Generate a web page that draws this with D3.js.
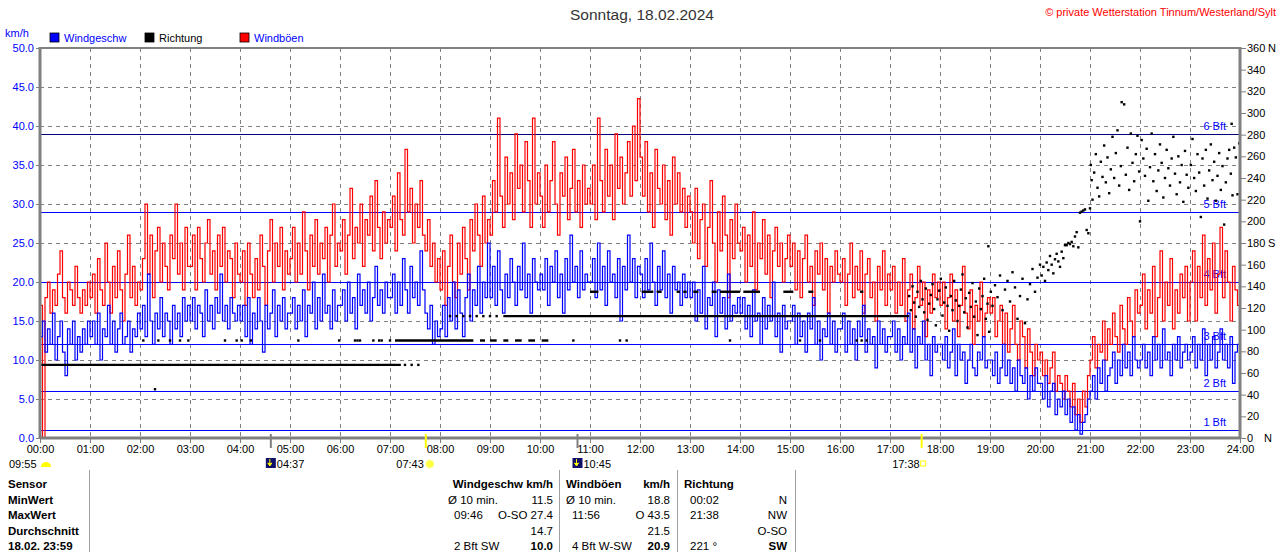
<!DOCTYPE html>
<html lang="de">
<head>
<meta charset="UTF-8">
<title>Wind 18.02.2024</title>
<style>
  body { margin: 0; background: #fff; }
  svg { display: block; font-family: "Liberation Sans", Arial, sans-serif; }
</style>
</head>
<body>
<svg id="chart" width="1280" height="552"></svg>
<script src="https://d3js.org/d3.v7.min.js"></script>
<script>
// Windboeen km/h, one row per hour, values every 3 minutes
let gustRows = [
  [17,0,18,20,16,19,17,21,24,18,16,20,19,17,22,18,16,19,17,20],
  [18,21,16,23,19,17,25,20,16,22,18,24,19,15,21,26,18,22,17,20],
  [19,23,30,21,26,18,24,27,20,25,22,19,26,23,30,21,25,19,27,22],
  [22,26,19,27,23,20,25,28,21,24,19,26,22,27,20,24,23,18,25,21],
  [20,24,17,25,21,18,23,19,26,22,17,24,28,20,25,22,27,19,24,21],
  [23,27,20,25,21,29,24,19,26,22,28,21,25,23,27,20,26,30,22,25],
  [24,28,21,26,32,23,27,25,30,22,28,26,31,24,33,27,23,29,25,28],
  [27,31,24,34,28,26,37,29,32,25,30,27,33,26,24,28,22,25,20,23],
  [19,24,17,22,26,20,18,25,21,27,23,19,28,24,30,26,22,31,25,28],
  [26,33,29,41,31,27,36,30,34,28,39,32,35,29,38,33,27,41,30,34],
  [31,27,35,29,33,38,30,26,34,31,36,28,32,37,29,33,27,35,30,32],
  [30,35,28,41,33,29,37,31,35,28,39,32,36,30,34,38,31,40,33,43.5],
  [36,31,38,29,34,27,37,32,30,35,28,33,26,36,30,34,29,32,27,31],
  [29,25,32,23,28,30,22,27,33,25,20,29,24,31,26,18,28,23,30,25],
  [24,27,20,26,22,29,19,25,23,28,21,26,18,24,27,22,25,20,23,26],
  [22,25,19,24,18,23,26,20,22,17,24,21,25,19,23,16,22,20,24,21],
  [20,23,17,21,25,18,22,19,24,16,21,23,18,20,15,22,19,24,17,21],
  [19,22,16,20,17,23,15,19,21,14,18,22,17,20,13,19,16,21,18,20],
  [17,20,14,18,21,15,19,13,17,22,16,14,19,12,17,15,20,13,16,18],
  [16,18,13,15,17,12,16,11,14,17,12,10,15,13,9,14,11,8,12,10],
  [11,8,10,7,9,11,6,8,7,5,8,6,4,7,3,5,2,6,4,8],
  [10,13,9,12,11,15,10,14,12,16,13,11,17,14,12,18,15,13,19,16],
  [17,21,14,19,16,22,13,18,24,15,20,17,23,14,19,16,21,18,22,15],
  [20,24,15,22,18,26,17,23,19,25,16,21,27,18,24,20,15,22,19,17]
];

// Windgeschwindigkeit km/h, one row per hour, values every 3 minutes
let speedRows = [
  [13,15,11,14,12,16,10,13,15,11,8,14,12,15,10,13,11,14,12,15],
  [13,15,12,16,10,14,13,17,12,15,11,14,16,12,13,15,11,14,13,16],
  [14,17,13,21,15,12,16,14,18,13,16,15,12,17,14,16,13,18,15,17],
  [15,18,14,17,16,13,19,15,17,14,18,16,21,15,17,14,18,16,15,17],
  [15,17,13,18,12,16,14,18,15,11,17,14,16,19,13,17,15,18,14,16],
  [16,18,14,17,15,19,13,17,16,20,14,18,15,21,16,17,14,19,15,17],
  [17,19,15,20,16,18,14,21,17,19,16,20,15,18,22,17,19,16,20,18],
  [18,21,16,20,17,23,19,16,22,18,20,17,24,19,16,14,17,12,15,13],
  [14,17,13,18,15,20,14,19,16,13,18,21,15,19,17,22,16,20,18,25],
  [18,22,17,24,19,16,21,18,23,20,17,22,19,25,18,21,16,23,20,19],
  [21,19,23,17,22,20,24,18,21,16,23,19,26,20,22,18,24,19,21,20],
  [20,23,18,25,19,22,17,24,20,21,18,23,15,22,19,26,20,23,18,22],
  [21,18,23,19,25,20,17,22,19,24,18,21,16,22,19,20,17,21,18,20],
  [18,20,15,19,16,22,14,18,17,20,13,19,16,18,14,21,15,17,16,18],
  [16,18,14,17,13,19,15,16,12,18,14,17,15,20,13,16,11,17,14,15],
  [15,17,12,16,13,15,11,16,14,18,12,15,10,14,13,16,12,15,11,14],
  [14,16,11,15,12,14,10,15,13,17,11,14,12,13,9,15,12,14,11,13],
  [13,15,11,14,10,13,12,16,11,14,9,13,12,15,10,12,8,13,11,12],
  [12,10,13,9,11,14,8,12,10,11,7,10,12,9,8,11,10,13,9,10],
  [10,8,11,7,9,12,8,10,7,9,6,10,8,7,9,5,8,6,9,7],
  [7,5,8,4,6,7,3,5,4,6,3,5,2,4,1,3,0.5,2,3,5],
  [6,8,5,9,7,10,6,8,9,11,7,10,8,12,9,11,8,13,10,9],
  [10,12,9,11,8,13,10,12,9,14,10,11,8,12,10,13,9,11,12,10],
  [11,13,9,12,10,14,8,12,10,13,9,11,14,10,12,9,13,7,11,12]
];
let gustEnd = 16, speedEnd = 11; // readings at 24:00

// Richtung: steady runs [from minute, to minute, degrees]
let dirRuns = [
  [0, 433, 67.5], [426, 520, 90],
  [528, 534, 90], [540, 548, 90], [556, 562, 90], [570, 578, 90], [586, 594, 90], [602, 610, 90],
  [556, 1043, 112.5],
  [660, 670, 135], [722, 736, 135], [740, 746, 135], [764, 768, 135], [772, 776, 135],
  [784, 790, 135], [806, 812, 135], [816, 840, 135], [844, 864, 135], [892, 904, 135],
  [922, 928, 135], [984, 988, 135]
];

// Richtung: single readings [minute, degrees]
let dirDots = [
  [138, 45], [438, 67.5], [446, 67.5], [454, 67.5],
  [124, 90], [142, 90], [156, 90], [168, 90], [178, 90], [222, 90], [236, 90], [242, 90],
  [253, 90], [310, 90], [359, 90], [378, 90], [381, 90], [384, 90], [400, 90], [407, 90],
  [410, 90], [420, 90], [640, 90], [696, 90], [704, 90], [828, 90], [912, 90], [936, 90],
  [980, 90], [986, 90], [992, 90],
  [492, 112.5], [500, 112.5], [508, 112.5], [516, 112.5], [524, 112.5], [532, 112.5], [540, 112.5], [548, 112.5],
  [1043, 131], [1045, 118], [1047, 140], [1049, 125], [1051, 112], [1053, 135], [1055, 121], [1057, 145],
  [1059, 128], [1061, 116], [1063, 138], [1065, 109], [1067, 124], [1069, 132], [1071, 142], [1073, 119],
  [1075, 104], [1077, 128], [1079, 136], [1081, 147], [1083, 113], [1085, 125], [1087, 139], [1089, 122],
  [1091, 99], [1093, 131], [1095, 118], [1097, 145], [1099, 127], [1101, 108], [1103, 122], [1105, 137],
  [1107, 151], [1109, 116], [1111, 129], [1113, 102], [1115, 134], [1117, 121], [1119, 143], [1121, 112],
  [1123, 126], [1125, 95], [1127, 138], [1129, 119], [1131, 131], [1133, 147], [1135, 110], [1137, 124],
  [1138, 177], [1139, 98], [1141, 135], [1143, 122], [1146, 141], [1149, 130], [1152, 150], [1155, 118],
  [1158, 137], [1161, 145], [1164, 126], [1167, 153], [1170, 139], [1173, 110], [1176, 131], [1179, 147],
  [1182, 106], [1185, 128], [1188, 142], [1191, 156], [1194, 135], [1197, 148], [1200, 160], [1202, 150],
  [1204, 158], [1206, 145], [1208, 162], [1210, 155], [1212, 168], [1214, 160], [1216, 152], [1218, 165],
  [1220, 170], [1222, 163], [1224, 158], [1226, 172], [1228, 166], [1230, 178], [1232, 178], [1234, 180],
  [1236, 179], [1238, 181], [1240, 177], [1242, 186], [1244, 190], [1246, 176], [1248, 208], [1250, 209],
  [1252, 210], [1254, 211], [1256, 192], [1258, 189], [1260, 212],
  [1261, 252], [1262, 238], [1263, 220], [1265, 245], [1267, 262], [1269, 231], [1271, 223], [1273, 255],
  [1275, 241], [1277, 270], [1279, 236], [1281, 259], [1283, 226], [1285, 248], [1287, 278], [1289, 240],
  [1291, 263], [1293, 284], [1295, 233], [1297, 251], [1298, 310], [1301, 308], [1303, 243], [1305, 268],
  [1307, 229], [1309, 281], [1311, 254], [1313, 237], [1315, 262], [1317, 279], [1319, 246], [1320, 200],
  [1322, 275], [1324, 258], [1326, 242], [1328, 267], [1330, 219], [1332, 250], [1334, 281], [1336, 237],
  [1338, 262], [1340, 228], [1342, 247], [1344, 271], [1346, 254], [1348, 222], [1350, 240], [1352, 266],
  [1354, 249], [1356, 233], [1358, 258], [1360, 278], [1362, 244], [1364, 225], [1366, 260], [1368, 236],
  [1370, 252], [1372, 218], [1374, 265], [1376, 243], [1378, 231],
  [1381, 252], [1383, 276], [1385, 240], [1387, 228], [1389, 262], [1391, 245], [1393, 204], [1395, 258],
  [1397, 233], [1399, 266], [1401, 221], [1403, 247], [1405, 271], [1407, 238], [1409, 255], [1411, 219],
  [1413, 242], [1415, 263], [1417, 229], [1419, 251], [1421, 197], [1423, 236], [1425, 258], [1427, 266],
  [1429, 244], [1430, 290], [1431, 224], [1433, 268], [1435, 259], [1437, 225], [1439, 272]
];

let bftLevels = [1, 6, 12, 20, 29, 39];
let bftLabels = ["1 Bft", "2 Bft", "3 Bft", "4 Bft", "5 Bft", "6 Bft"];
let speedTicks = d3.range(0, 50.1, 5);
let dirTicks = d3.range(0, 361, 20);
let compass = [[0, "N"], [180, "S"], [360, "N"]];
let hourTicks = d3.range(0, 1441, 60);

// Sonne / Mond Zeiten [minute, label, kind]
let sunMoon = [[277, "04:37", "moon"], [463, "07:43", "sun"], [645, "10:45", "moon"], [1058, "17:38", "sun"]];

let legend = [
  {label: "Windgeschw", color: "#0000ff", text: "#0000ff"},
  {label: "Richtung", color: "#000000", text: "#000000"},
  {label: "Windböen", color: "#ff0000", text: "#0000ff"}
];

let tableLabels = ["Sensor", "MinWert", "MaxWert", "Durchschnitt", "18.02.  23:59"];
let tableSpeed = [["", "Windgeschw km/h", true], ["Ø 10 min.", "11.5"], ["09:46", "O-SO 27.4"], ["", "14.7"], ["2 Bft SW", "10.0", true]];
let tableGust = [["Windböen", "km/h", true], ["Ø 10 min.", "18.8"], ["11:56", "O 43.5"], ["", "21.5"], ["4 Bft W-SW", "20.9", true]];
let tableDir = [["Richtung", "", true], ["00:02", "N"], ["21:38", "NW"], ["", "O-SO"], ["221 °", "SW", true]];

// flatten hourly rows into [minute, value]
function toSeries(rows, endValue) {
  let pts = [];
  rows.forEach((row, h) => row.forEach((v, j) => pts.push([h * 60 + j * 60 / row.length, v])));
  pts.push([1440, endValue]);
  return pts;
}
let gust = toSeries(gustRows, gustEnd);
let speed = toSeries(speedRows, speedEnd);

let svg = d3.select("#chart");
let pLeft = 40, pRight = 1240, pTop = 48, pBottom = 438;

let x = d3.scaleLinear().domain([0, 1440]).range([pLeft, pRight]);
let y = d3.scaleLinear().domain([0, 50]).range([pBottom, pTop]);
let yDir = d3.scaleLinear().domain([0, 360]).range([pBottom, pTop]);

// title
svg.append("text").attr("x", 642).attr("y", 20).attr("text-anchor", "middle")
  .attr("font-size", 15.5).attr("fill", "#333").text("Sonntag, 18.02.2024");
svg.append("text").attr("x", 1276).attr("y", 16).attr("text-anchor", "end")
  .attr("font-size", 11).attr("fill", "#ff0000").text("© private Wetterstation Tinnum/Westerland/Sylt");

// legend
svg.append("text").attr("x", 5).attr("y", 37).attr("font-size", 11).attr("fill", "#0000ff").text("km/h");
let lg = svg.selectAll(".lg").data(legend).enter().append("g")
  .attr("transform", (d, i) => "translate(" + [50, 145, 240][i] + ",33)");
lg.append("rect").attr("width", 9).attr("height", 9).attr("fill", d => d.color)
  .attr("stroke", "#000").attr("stroke-width", 0.8);
lg.append("text").attr("x", 14).attr("y", 8.5).attr("font-size", 11).attr("fill", d => d.text).text(d => d.label);

// grid
let grid = svg.append("g").attr("stroke", "#808080").attr("stroke-dasharray", "4,4").attr("stroke-width", 1);
grid.selectAll(".gh").data(speedTicks.filter(d => d > 0 && d < 50)).enter().append("line")
  .attr("x1", pLeft).attr("x2", pRight).attr("y1", d => Math.round(y(d)) + 0.5).attr("y2", d => Math.round(y(d)) + 0.5);
grid.selectAll(".gv").data(hourTicks.filter(d => d > 0 && d < 1440)).enter().append("line")
  .attr("y1", pTop).attr("y2", pBottom).attr("x1", d => Math.round(x(d)) + 0.5).attr("x2", d => Math.round(x(d)) + 0.5);

// Beaufort lines
svg.selectAll(".bft").data(bftLevels).enter().append("line")
  .attr("x1", pLeft).attr("x2", pRight)
  .attr("y1", d => Math.round(y(d)) + 0.5).attr("y2", d => Math.round(y(d)) + 0.5)
  .attr("stroke", d => d === 39 ? "#000080" : "#0000ff").attr("stroke-width", 1.2);
svg.selectAll(".bftl").data(bftLevels).enter().append("text")
  .attr("x", 1226).attr("y", d => y(d) - 4).attr("text-anchor", "end")
  .attr("font-size", 11).attr("fill", "#0000ff").text((d, i) => bftLabels[i]);

// series
let plot = svg.append("g");
svg.append("clipPath").attr("id", "clip").append("rect")
  .attr("x", pLeft).attr("y", pTop).attr("width", pRight - pLeft).attr("height", pBottom - pTop);
plot.attr("clip-path", "url(#clip)");

let line = d3.line().x(d => x(d[0])).y(d => y(d[1])).curve(d3.curveStepAfter);
plot.append("path").datum(gust).attr("d", line).attr("fill", "none").attr("stroke", "#ff0000").attr("stroke-width", 1.2);
plot.append("path").datum(speed).attr("d", line).attr("fill", "none").attr("stroke", "#0000ff").attr("stroke-width", 1.2);

plot.selectAll(".run").data(dirRuns).enter().append("line")
  .attr("x1", d => x(d[0])).attr("x2", d => x(d[1]))
  .attr("y1", d => yDir(d[2])).attr("y2", d => yDir(d[2]))
  .attr("stroke", "#000").attr("stroke-width", 2.4);
plot.selectAll(".dot").data(dirDots).enter().append("rect")
  .attr("x", d => x(d[0]) - 1.2).attr("y", d => yDir(d[1]) - 1.2)
  .attr("width", 2.4).attr("height", 2.4).attr("fill", "#000");

// frame
let frame = svg.append("g").attr("stroke", "#808080");
frame.append("line").attr("x1", pLeft).attr("x2", pRight).attr("y1", pTop).attr("y2", pTop).attr("stroke-width", 2);
frame.append("line").attr("x1", pLeft).attr("x2", pLeft).attr("y1", pTop - 1).attr("y2", pBottom + 1).attr("stroke-width", 3);
frame.append("line").attr("x1", pRight).attr("x2", pRight).attr("y1", pTop - 1).attr("y2", pBottom + 1).attr("stroke-width", 3);
frame.append("line").attr("x1", pLeft).attr("x2", pRight).attr("y1", pBottom).attr("y2", pBottom).attr("stroke-width", 3);

// axes
let axL = svg.append("g").attr("transform", "translate(" + (pLeft - 1) + ",0)")
  .call(d3.axisLeft(y).tickValues(speedTicks).tickFormat(d3.format(".1f")).tickSize(3).tickPadding(2));
axL.select(".domain").remove();
axL.selectAll("line").attr("stroke", "#808080");
axL.selectAll("text").attr("fill", "#0000ff").attr("font-size", 11).attr("font-family", null);

let axR = svg.append("g").attr("transform", "translate(" + (pRight + 1) + ",0)")
  .call(d3.axisRight(yDir).tickValues(dirTicks).tickSize(5).tickPadding(1));
axR.select(".domain").remove();
axR.selectAll("line").attr("stroke", "#808080");
axR.selectAll("text").attr("fill", "#000").attr("font-size", 11).attr("font-family", null);
svg.selectAll(".cmp").data(compass).enter().append("text")
  .attr("x", d => d[0] === 0 ? 1264 : 1268).attr("y", d => yDir(d[0]) + 4)
  .attr("font-size", 11).text(d => d[1]);

let axB = svg.append("g").attr("transform", "translate(0," + (pBottom + 1) + ")")
  .call(d3.axisBottom(x).tickValues(hourTicks)
    .tickFormat(d => String(d / 60).padStart(2, "0") + ":00").tickSize(4).tickPadding(2));
axB.select(".domain").remove();
axB.selectAll("line").attr("stroke", "#808080");
axB.selectAll("text").attr("fill", "#000").attr("font-size", 11).attr("font-family", null);

// sun / moon markers
svg.selectAll(".sm").data(sunMoon).enter().append("line")
  .attr("x1", d => x(d[0])).attr("x2", d => x(d[0]))
  .attr("y1", 434).attr("y2", 448)
  .attr("stroke", d => d[2] === "sun" ? "#ffff00" : "#808080").attr("stroke-width", 2);

let lbl = svg.append("g").attr("font-size", 11);
lbl.append("text").attr("x", 9).attr("y", 468).text("09:55");
lbl.append("path").attr("d", "M41,467 a5,5 0 0 1 10,0 z").attr("fill", "#ffff00");
sunMoon.forEach(d => {
  let px = x(d[0]);
  if (d[2] === "moon") {
    lbl.append("rect").attr("x", px - 5).attr("y", 458).attr("width", 10).attr("height", 10).attr("fill", "#10106a");
    lbl.append("path").attr("d", "M" + (px - 1) + ",459 v5 l-2,-1 l2,3 l2,-3 l-2,1").attr("stroke", "#ffff00").attr("fill", "#ffff00").attr("stroke-width", 1);
    lbl.append("text").attr("x", px + 6).attr("y", 468).text(d[1]);
  } else {
    if (d[1] === "07:43") {
      lbl.append("circle").attr("cx", px + 4).attr("cy", 464).attr("r", 4).attr("fill", "#ffff40").attr("stroke", "#ffff99");
    } else {
      lbl.append("rect").attr("x", px - 1).attr("y", 461).attr("width", 5).attr("height", 5).attr("fill", "none").attr("stroke", "#ffff00");
    }
    lbl.append("text").attr("x", px - 2).attr("y", 468).attr("text-anchor", "end").text(d[1]);
  }
});

// table
let tb = svg.append("g").attr("font-size", 11.5);
[89, 559, 677, 795].forEach(px => {
  tb.append("line").attr("x1", px + 0.5).attr("x2", px + 0.5).attr("y1", 470).attr("y2", 552).attr("stroke", "#a0a0a0");
});
let rowY = i => 488 + i * 15.5;
tableLabels.forEach((t, i) => {
  tb.append("text").attr("x", 8).attr("y", rowY(i)).attr("font-weight", "bold").text(t);
});
function cols(rows, xl, xr) {
  rows.forEach((r, i) => {
    let bold = r[2] === true;
    if (r[0]) tb.append("text").attr("x", i === 0 ? xl : (r[0].startsWith("Ø") ? xl : xl + 6)).attr("y", rowY(i))
      .attr("font-weight", i === 0 ? "bold" : null).text(r[0]);
    if (r[1]) tb.append("text").attr("x", xr).attr("y", rowY(i)).attr("text-anchor", "end")
      .attr("font-weight", bold ? "bold" : null).text(r[1]);
  });
}
cols(tableSpeed, 448, 553);
cols(tableGust, 566, 670);
cols(tableDir, 684, 787);
</script>
</body>
</html>
